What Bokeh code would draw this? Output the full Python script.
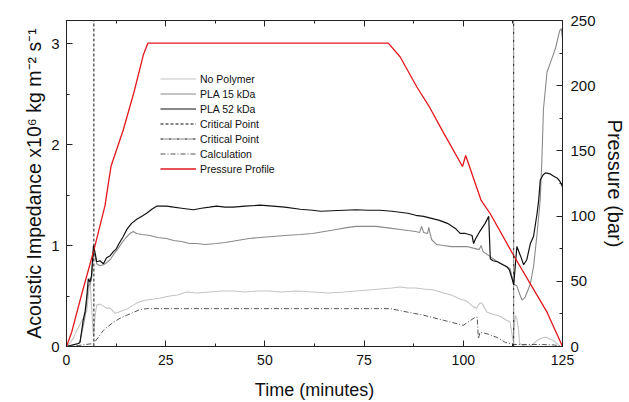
from bokeh.plotting import figure
from bokeh.models import (Range1d, LinearAxis, SingleIntervalTicker, Legend, LegendItem,
                          CustomJSTickFormatter)
from bokeh.embed import file_html
from bokeh.resources import INLINE

# ---------------- data ----------------
t_pla52 = [0, 1, 2, 3, 3.4, 4.2, 4.7, 5.1, 5.5, 5.9, 6.3, 6.8, 7.2, 7.6, 8.4, 9.3, 10.1, 11, 11.8, 12.6,
           13.1, 14.3, 15.2, 16.4, 17.7, 19, 20.2, 21.5, 22.7, 24, 25.2, 27, 29, 31, 32, 34, 36, 37.8,
           40, 42, 45, 48.8, 52, 55, 58.9, 62, 64, 67, 70, 73, 76, 79, 82, 84, 86, 88, 90, 92, 94, 96,
           98, 99.2, 100.5, 101.5, 102.2, 102.6, 103, 104, 105.5, 106.4, 106.8, 107.5, 108.6, 110, 111,
           111.6, 112.3, 112.7, 113.1, 113.5, 114.4, 115.2, 116, 116.9, 117.7, 118.6, 119, 119.4, 120.1,
           120.7, 121.9, 122.7, 123.6, 124.3, 124.9, 125]
y_pla52 = [0, 0.01, 0.02, 0.03, 0.04, 0.26, 0.35, 0.49, 0.67, 0.64, 0.70, 1.00, 0.93, 0.84, 0.85, 0.82,
           0.88, 0.90, 0.94, 0.97, 1.01, 1.09, 1.16, 1.22, 1.26, 1.29, 1.32, 1.36, 1.39, 1.39, 1.39, 1.38,
           1.37, 1.36, 1.355, 1.37, 1.38, 1.39, 1.38, 1.38, 1.39, 1.40, 1.39, 1.38, 1.36, 1.35, 1.34,
           1.345, 1.35, 1.355, 1.35, 1.35, 1.34, 1.33, 1.32, 1.30, 1.29, 1.27, 1.25, 1.22, 1.17, 1.12,
           1.12, 1.11, 1.10, 1.02, 1.06, 1.13, 1.22, 1.29, 0.87, 0.85, 0.84, 0.81, 0.79, 0.76, 0.67,
           0.61, 0.80, 0.99, 0.90, 0.81, 0.86, 1.02, 1.09, 1.32, 1.45, 1.65, 1.70, 1.72, 1.71, 1.69,
           1.67, 1.64, 1.59, 1.58]

t_pla15 = [0, 1, 2, 3, 3.4, 4.2, 4.7, 5.1, 5.5, 5.9, 6.3, 6.8, 7.2, 7.6, 8.4, 9.3, 10.1, 11, 12, 13,
           14, 15, 16, 16.8, 17.7, 19, 21, 23, 25.2, 27, 29, 31, 32.8, 35, 37.8, 40, 43, 46, 48.8, 52,
           55, 58.9, 62, 65, 68, 71, 73, 75.7, 78, 80, 82, 84.1, 86, 88, 89, 89.5, 90, 91, 91.3, 92,
           93.3, 95, 97, 99.2, 100.9, 103, 104, 104.5, 105, 106.8, 108.6, 110, 111.8, 112.7, 113.5,
           114.2, 114.8, 115.6, 116.9, 117.7, 118.6, 119.4, 119.8, 120.2, 121.1, 122.3, 123.2, 124.3,
           124.7, 125]
y_pla15 = [0, 0.01, 0.02, 0.03, 0.05, 0.20, 0.30, 0.45, 0.60, 0.62, 0.66, 0.95, 0.90, 0.82, 0.80, 0.81,
           0.83, 0.86, 0.92, 0.97, 1.03, 1.08, 1.12, 1.14, 1.12, 1.11, 1.10, 1.08, 1.07, 1.05, 1.04,
           1.02, 1.02, 1.01, 1.02, 1.03, 1.05, 1.07, 1.08, 1.09, 1.10, 1.11, 1.12, 1.14, 1.16, 1.18,
           1.19, 1.19, 1.19, 1.18, 1.17, 1.16, 1.15, 1.14, 1.13, 1.19, 1.13, 1.12, 1.18, 1.06, 1.01,
           1.00, 0.99, 0.99, 0.99, 0.97, 0.96, 1.00, 0.94, 0.89, 0.84, 0.81, 0.77, 0.62, 0.60, 0.52,
           0.46, 0.49, 0.62, 0.79, 1.12, 1.46, 1.85, 2.35, 2.72, 2.85, 2.95, 3.13, 3.15, 3.05]

t_nopoly = [0, 0.8, 1.7, 2.6, 3.4, 4.2, 5.1, 5.5, 5.9, 6.3, 6.8, 7.2, 7.6, 8.4, 9.3, 10.1, 11, 12.2, 13.1,
            14.3, 15.2, 16.4, 17.7, 19, 20.2, 22, 23.6, 26.1, 28, 30.3, 33, 36, 39, 42, 45, 48, 51,
            54, 58, 62, 66, 70, 73, 76, 79, 82, 84.1, 86, 88, 90, 92.5, 95, 97, 99.2, 100.9, 102.6,
            103.4, 103.8, 104.2, 104.6, 105, 106, 107.5, 109.3, 110.5, 111.8, 112.5, 113.1, 113.5,
            113.9, 114.2, 115, 116.5, 117.5, 118.6, 119.5, 120.3, 121.1, 122, 122.7, 123.6, 124.3, 125]
y_nopoly = [0, 0.03, 0.08, 0.16, 0.22, 0.28, 0.35, 0.50, 0.68, 0.40, 0.10, 0.30, 0.41, 0.42, 0.40, 0.38,
            0.38, 0.33, 0.34, 0.36, 0.37, 0.40, 0.43, 0.45, 0.46, 0.47, 0.48, 0.50, 0.51, 0.54, 0.53,
            0.54, 0.55, 0.55, 0.54, 0.55, 0.55, 0.54, 0.55, 0.54, 0.53, 0.54, 0.55, 0.56, 0.57, 0.58,
            0.59, 0.58, 0.58, 0.57, 0.56, 0.53, 0.51, 0.47, 0.45, 0.39, 0.38, 0.41, 0.43, 0.43, 0.41,
            0.34, 0.32, 0.30, 0.27, 0.24, 0.06, 0.31, 0.27, 0.18, 0.03, 0.01, 0.00, 0.02, 0.06, 0.08,
            0.09, 0.09, 0.07, 0.06, 0.03, 0.00, 0.00]

t_calc = [0, 3, 6.8, 8, 9.3, 10.5, 11.8, 13.5, 15.2, 17, 18.5, 20.2, 30, 40, 50, 60, 70, 81.6, 86, 90,
          95, 100, 101.5, 103, 103.5, 103.8, 104.2, 106, 108.5, 110.6, 112.7, 116, 120, 123, 125]
y_calc = [0, 0.01, 0.03, 0.09, 0.16, 0.20, 0.24, 0.28, 0.31, 0.34, 0.366, 0.375, 0.375, 0.375, 0.375,
          0.375, 0.375, 0.375, 0.34, 0.31, 0.26, 0.21, 0.25, 0.29, 0.29, 0.077, 0.14, 0.126, 0.09,
          0.04, 0.02, 0.02, 0.02, 0.015, 0]

t_press = [0, 1.3, 4, 7, 9.7, 11.2, 14.3, 17, 19.4, 20.5, 40, 60, 81.1, 84.1, 88.3, 91.5, 95.0, 99.8,
           100.6, 104.5, 106.8, 112.7, 116.9, 121.1, 125]
p_press = [0, 11, 42, 75, 108, 138, 166, 195, 224, 232.6, 232.6, 232.6, 232.6, 222, 199, 183.5, 164,
           138, 146.5, 112, 101.8, 69.8, 48, 26.3, 0]

critical_1 = 6.9
critical_2 = 112.7

x_lim = (0, 125)
y_lim = (0, 3.23)
p_lim = (0, 250)
# ----------------------------------------------------------------

FONT = "Liberation Sans"

p = figure(width=629, height=402, output_backend="svg", toolbar_location=None,
           x_range=Range1d(*x_lim), y_range=Range1d(*y_lim),
           min_border_left=66, min_border_right=67, min_border_top=20, min_border_bottom=56)
p.extra_y_ranges = {"press": Range1d(*p_lim)}
p.grid.visible = False
p.outline_line_color = "#222222"
p.outline_line_width = 1
p.background_fill_color = "white"
p.border_fill_color = "white"


def style_axis(ax, tick_size="14px", label_size="18px"):
    ax.axis_line_color = "#222222"
    ax.major_tick_line_color = "#222222"
    ax.minor_tick_line_color = "#222222"
    ax.major_tick_in = 6
    ax.major_tick_out = 0
    ax.minor_tick_in = 3
    ax.minor_tick_out = 0
    ax.major_label_text_font = FONT
    ax.major_label_text_font_size = tick_size
    ax.major_label_text_color = "#111111"
    ax.axis_label_text_font = FONT
    ax.axis_label_text_font_style = "normal"
    ax.axis_label_text_font_size = label_size
    ax.axis_label_text_color = "#111111"


xax = p.xaxis[0]
xax.ticker = SingleIntervalTicker(interval=25, num_minor_ticks=2)
xax.axis_label = "Time (minutes)"
style_axis(xax, "14px", "18px")
xax.major_label_standoff = 8
xax.axis_label_standoff = 12

yax = p.yaxis[0]
yax.ticker = SingleIntervalTicker(interval=1, num_minor_ticks=2)
yax.axis_label = "Acoustic Impedance x10\u2076 kg m\u207b\u00b2 s\u207b\u00b9"
style_axis(yax, "15px", "19.5px")
yax.major_label_standoff = 7
yax.axis_label_standoff = 3

rax = LinearAxis(y_range_name="press", ticker=SingleIntervalTicker(interval=50, num_minor_ticks=2),
                 axis_label="Pressure (bar)")
style_axis(rax, "15px", "20px")
rax.major_label_standoff = 8
rax.axis_label_standoff = 5
p.add_layout(rax, "right")

tax = LinearAxis(ticker=SingleIntervalTicker(interval=25, num_minor_ticks=2),
                 formatter=CustomJSTickFormatter(code="return ''"))
style_axis(tax)
tax.major_label_standoff = 0
p.add_layout(tax, "above")

# series
r_np = p.line(t_nopoly, y_nopoly, line_color="#c4c4c4", line_width=1.1)
r_15 = p.line(t_pla15, y_pla15, line_color="#8a8a8a", line_width=1.1)
r_52 = p.line(t_pla52, y_pla52, line_color="#111111", line_width=1.2)
r_calc = p.line(t_calc, y_calc, line_color="#555555", line_width=1, line_dash="5 2 1 2")
r_pr = p.line(t_press, p_press, y_range_name="press", line_color="#e3171c", line_width=1.3)

# critical point verticals, spanning the y range
r_cp1 = p.line([critical_1, critical_1], list(y_lim), line_color="#111111", line_width=1,
               line_dash="3 2")
r_cp2 = p.line([critical_2, critical_2], list(y_lim), line_color="#111111", line_width=1,
               line_dash="3 1 1 1 1 1")

legend = Legend(items=[
    LegendItem(label="No Polymer", renderers=[r_np]),
    LegendItem(label="PLA 15 kDa", renderers=[r_15]),
    LegendItem(label="PLA 52 kDa", renderers=[r_52]),
    LegendItem(label="Critical Point", renderers=[r_cp1]),
    LegendItem(label="Critical Point", renderers=[r_cp2]),
    LegendItem(label="Calculation", renderers=[r_calc]),
    LegendItem(label="Pressure Profile", renderers=[r_pr]),
], location=(94, 170))
legend.border_line_color = None
legend.background_fill_alpha = 0
legend.label_text_font = FONT
legend.label_text_font_size = "10.5px"
legend.label_text_color = "#111111"
legend.glyph_width = 36
legend.glyph_height = 15
legend.label_height = 15
legend.spacing = 0
legend.padding = 0
legend.margin = 0
legend.label_standoff = 4
p.add_layout(legend, "center")

open("out.html", "w").write(file_html(p, INLINE))
